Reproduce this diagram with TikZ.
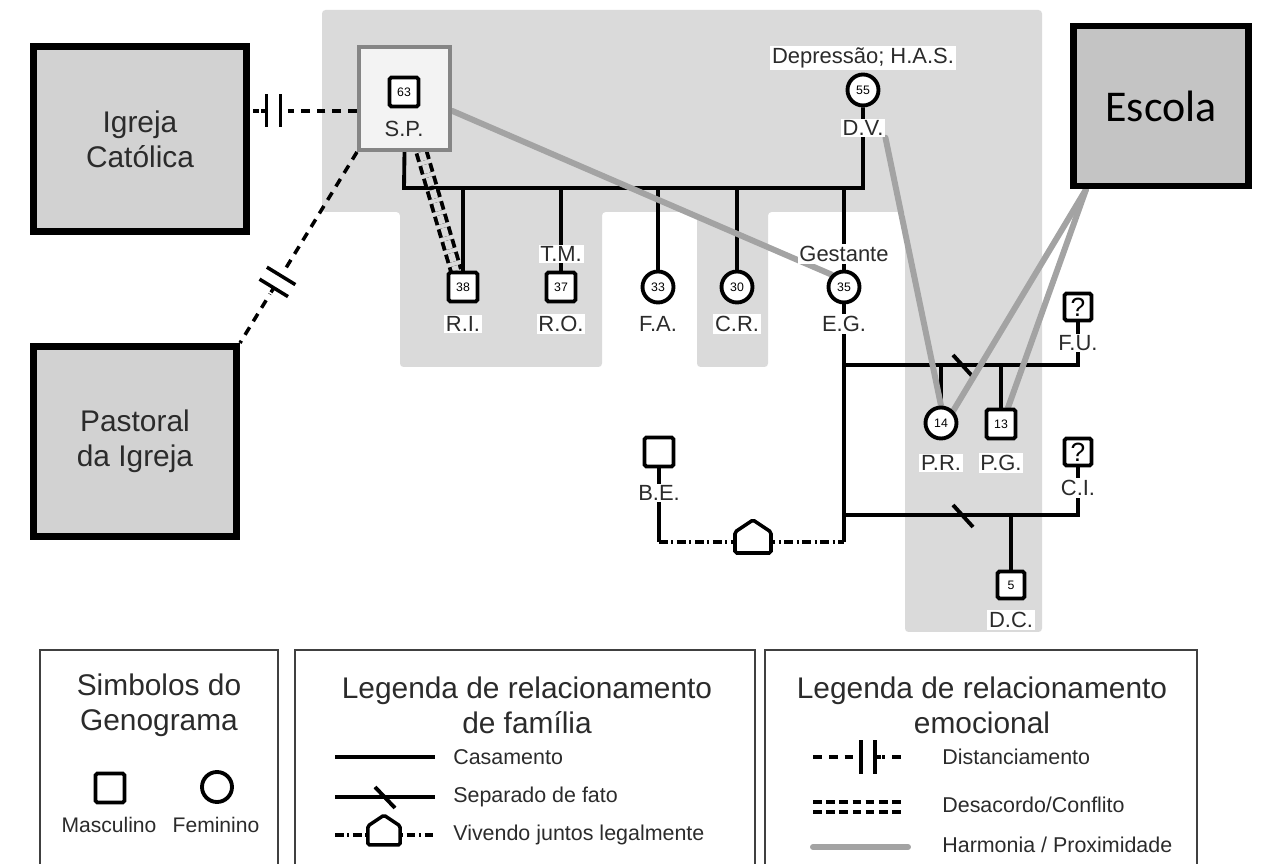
\documentclass[tikz,border=0pt]{standalone}
\usepackage{fontspec}
\setmainfont{Liberation Sans}
\newfontfamily\escolafont{Carlito}
\usepackage{xcolor}
\usetikzlibrary{decorations.markings, calc}

\definecolor{fundo}{HTML}{DADADA}
\definecolor{caixa}{HTML}{D2D2D2}
\definecolor{caixaesc}{HTML}{C4C4C4}
\definecolor{claro}{HTML}{F3F3F3}
\definecolor{borda}{HTML}{858585}
\definecolor{harm}{HTML}{A3A3A3}
\definecolor{texto}{HTML}{2B2B2B}

\pgfdeclarelayer{fundo}
\pgfdeclarelayer{linhas}
\pgfsetlayers{fundo,linhas,main}

\begin{document}
\begin{tikzpicture}[x=0.02cm, y=-0.02cm,
    masc/.style={draw, line width=2.2pt, rounded corners=1pt, fill=white, minimum size=0.58cm, inner sep=0pt, font=\fontsize{7}{8}\selectfont},
    fem/.style={circle, draw, line width=2.2pt, fill=white, minimum size=0.62cm, inner sep=0pt, font=\fontsize{7}{8}\selectfont},
    incog/.style={masc, minimum size=0.54cm, font=\fontsize{15}{16}\selectfont},
    rot/.style={fill=white, inner sep=1pt, text=texto, font=\fontsize{12.5}{14}\selectfont},
    instit/.style={draw, line width=4pt, fill=caixa, align=center, text=texto, font=\fontsize{17}{20}\selectfont},
    titulo/.style={align=center, text=texto, font=\fontsize{17}{20}\selectfont},
    item/.style={anchor=west, inner sep=0pt, text=texto, font=\fontsize{12.2}{14}\selectfont},
    fam/.style={line width=2.2pt},
    coab/.style={line width=2.2pt, dash pattern=on 5pt off 2pt on 1.2pt off 2pt},
    harmonia/.style={harm, line width=3.4pt, line cap=round},
    conflito/.style={line width=2.2pt, dash pattern=on 5pt off 2.5pt, double=#1, double distance=3.6pt},
    distancia/.style={line width=2pt, dash pattern=on 5pt off 4pt,
        postaction={decorate, decoration={markings, mark=at position #1 with {
            \fill[white] (-8pt,-4pt) rectangle (8pt,4pt);
            \draw[solid, line width=2pt] (-4pt,-9.5pt) -- (-4pt,9.5pt) (4pt,-9.5pt) -- (4pt,9.5pt) (4pt,0pt) -- (7pt,0pt);}}}},
    casa/.pic={\filldraw[fill=white, line width=2pt, rounded corners=1pt] (-18,11) -- (-18,-10) -- (0,-22) -- (18,-10) -- (18,11) -- cycle;}
]
    \useasboundingbox (0,0) rectangle (1269,864);

    % Shaded household area
    \begin{pgfonlayer}{fundo}
        \fill[fundo, rounded corners=2pt] (322,10) -- (1042,10) -- (1042,632) -- (905,632) -- (905,212) -- (768,212)
            -- (768,367) -- (697,367) -- (697,212) -- (602,212) -- (602,367) -- (400,367) -- (400,212) -- (322,212) -- cycle;
    \end{pgfonlayer}

    % Institutions
    \node[instit, minimum width=4.26cm, minimum height=3.7cm] (igreja) at (140,139) {Igreja\\Católica};
    \node[instit, minimum width=4.06cm, minimum height=3.8cm] (pastoral) at (135,441.5) {Pastoral\\da Igreja};
    \node[instit, fill=caixaesc, line width=3.6pt, minimum width=3.5cm, minimum height=3.2cm, text=black,
          font=\escolafont\fontsize{25}{28}\selectfont] (escola) at (1161,106) {Escola};

    % Parents
    \node[draw=borda, fill=claro, line width=2.3pt, minimum width=1.82cm, minimum height=2.06cm] (spbox) at (404.5,98.5) {};
    \node[masc] (sp) at (404,92) {63};
    \node[rot, fill=claro] (spl) at (404,129) {S.P.};
    \node[rot] (dvt) at (863,58) {Depressão; H.A.S.};
    \node[fem] (dv) at (863,90) {55};
    \node[rot] (dvl) at (863,128) {D.V.};

    % Children
    \node[masc] (ri) at (463,287) {38};
    \node[masc] (ro) at (561,287) {37};
    \node[fem] (fa) at (658,287) {33};
    \node[fem] (cr) at (737,287) {30};
    \node[fem] (eg) at (844,287) {35};
    \node[rot] (ril) at (463,324) {R.I.};
    \node[rot] (rol) at (561,324) {R.O.};
    \node[rot] (fal) at (658,324) {F.A.};
    \node[rot] (crl) at (737,324) {C.R.};
    \node[rot] (egl) at (844,324) {E.G.};
    \node[rot] (tm) at (561,254) {T.M.};
    \node[rot] (gest) at (844,254) {Gestante};

    % Partners and grandchildren
    \node[incog] (fu) at (1078,307) {?};
    \node[rot] (ful) at (1078,343) {F.U.};
    \node[fem] (pr) at (941,423) {14};
    \node[rot] (prl) at (941,463) {P.R.};
    \node[masc] (pg) at (1001,424) {13};
    \node[rot] (pgl) at (1001,463) {P.G.};
    \node[incog] (ci) at (1078,452) {?};
    \node[rot] (cil) at (1078,488) {C.I.};
    \node[masc, minimum size=0.54cm] (dc) at (1011,585) {5};
    \node[rot] (dcl) at (1011,620) {D.C.};
    \node[masc] (be) at (659,452) {};
    \node[rot] (bel) at (659,493) {B.E.};

    \coordinate (m1) at (404,188);
    \coordinate (m2) at (863,188);
    \coordinate (c1) at (844,365);
    \coordinate (c2) at (844,515);
    \coordinate (c3) at (844,542);
    \coordinate (c4) at (659,542);
    \coordinate (spw) at ([yshift=-7pt]spbox.west);

    \begin{pgfonlayer}{linhas}
        % Family lines
        \draw[fam] (spbox.south) -- (m1) -- (m2) -- (dv.south);
        \foreach \k in {ri, ro, fa, cr, eg}
            \draw[fam] (m1 -| \k) -- (\k.north);
        \draw[fam] (eg.south) -- (c3);
        \draw[fam] (c1) -- (c1 -| fu) -- (fu.south);
        \draw[fam] (c2) -- (c2 -| ci) -- (ci.south);
        \draw[fam] (c1 -| pr) -- (pr.north);
        \draw[fam] (c1 -| pg) -- (pg.north);
        \draw[fam] (c2 -| dc) -- (dc.north);
        \draw[fam] (953,355) -- (973,377);
        \draw[fam] (953,505) -- (973,527);
        \draw[fam] (be.south) -- (c4);
        \draw[coab] (c4) -- (c3);

        % Emotional ties
        \draw[conflito=fundo] (spbox.south) ++(17,0) -- ([xshift=-4pt]ri.north);
        \draw[distancia=0.78] (spw) -- (spw -| igreja.east);
        \draw[distancia=0.68] (spbox.south west) -- (pastoral.north east);
        \draw[harmonia] (spbox.east |- spw) -- (eg.north west);
        \draw[harmonia] (dvl.south east) -- (pr.north);
        \draw[harmonia] ([xshift=9pt]escola.south west) -- (pr.north east);
        \draw[harmonia] ([xshift=9pt]escola.south west) -- ([xshift=4pt]pg.north);
    \end{pgfonlayer}
    \pic at (753,542) {casa};

    % Legend boxes
    \draw[line width=1.2pt, black!75] (40,864) -- (40,650) -- (278,650) -- (278,864);
    \draw[line width=1.2pt, black!75] (295,864) -- (295,650) -- (755,650) -- (755,864);
    \draw[line width=1.2pt, black!75] (765,864) -- (765,650) -- (1197,650) -- (1197,864);

    \node[titulo] (leg1) at (159,705) {Simbolos do\\Genograma};
    \node[masc] (lm) at (110,788) {};
    \node[fem, minimum size=0.6cm] (lf) at (217,787) {};
    \node[text=texto, font=\fontsize{12}{14}\selectfont] (lml) at (109,825) {Masculino};
    \node[text=texto, font=\fontsize{12}{14}\selectfont] (lfl) at (216,825) {Feminino};

    \node[titulo] (leg2) at (527,705) {Legenda de relacionamento\\de família};
    \coordinate (l1a) at (335,757); \coordinate (l1b) at (435,757);
    \coordinate (l2a) at (335,797); \coordinate (l2b) at (435,797);
    \coordinate (l3a) at (335,835); \coordinate (l3b) at (435,835);
    \draw[fam] (l1a) -- (l1b);
    \draw[fam] (l2a) -- (l2b);
    \draw[fam] (375,787) -- (395,808);
    \draw[coab] (l3a) -- (l3b);
    \pic[scale=0.9] at (384,835) {casa};
    \node[item] (it1) at (453,757) {Casamento};
    \node[item] (it2) at (453,797) {Separado de fato};
    \node[item] (it3) at (453,835) {Vivendo juntos legalmente};

    \node[titulo] (leg3) at (982,705) {Legenda de relacionamento\\emocional};
    \coordinate (e1a) at (813,757); \coordinate (e1b) at (905,757);
    \coordinate (e2a) at (813,807); \coordinate (e2b) at (905,807);
    \coordinate (e3a) at (813,847); \coordinate (e3b) at (908,847);
    \draw[distancia=0.6] (e1a) -- (e1b);
    \draw[conflito=white] (e2a) -- (e2b);
    \draw[harmonia] (e3a) -- (e3b);
    \node[item] (it4) at (942,757) {Distanciamento};
    \node[item] (it5) at (942,805) {Desacordo/Conflito};
    \node[item] (it6) at (942,845) {Harmonia / Proximidade};
\end{tikzpicture}
\end{document}
